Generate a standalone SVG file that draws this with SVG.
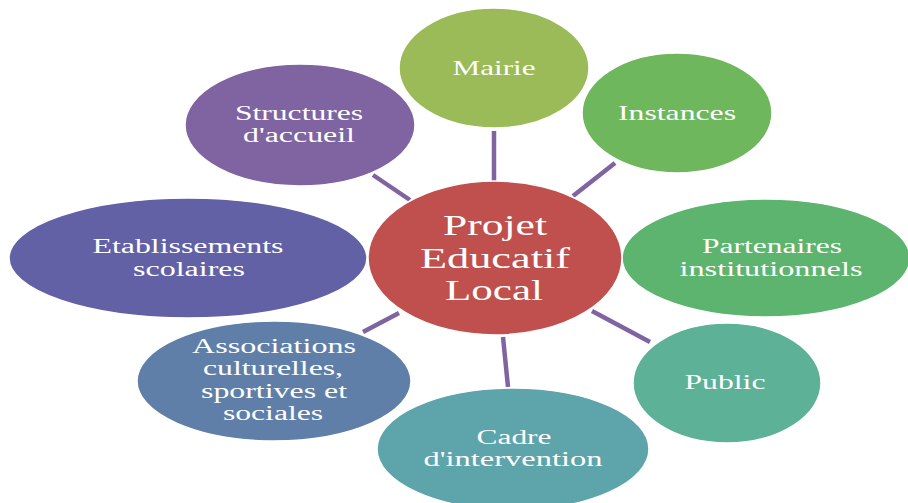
<svg xmlns="http://www.w3.org/2000/svg" width="908" height="503" viewBox="0 0 908 503">
<style>
.n{stroke:#ffffff;stroke-width:1.5}
.t{font-family:"Liberation Serif","Times New Roman",serif;font-size:20px;fill:#ffffff;text-anchor:middle}
.s{font-size:22px}
.c{font-size:29px}
.l{stroke:#8064A2;stroke-width:4.5;fill:none}
</style>
<rect width="908" height="503" fill="#ffffff"/>
<g id="connectors">
<line class="l" x1="494" y1="131" x2="494" y2="182"/>
<line class="l" x1="373" y1="175" x2="410" y2="200"/>
<line class="l" x1="615" y1="163" x2="573" y2="196"/>
<line class="l" x1="592" y1="311" x2="650" y2="342"/>
<line class="l" x1="399" y1="313" x2="363" y2="332"/>
<line class="l" x1="503" y1="337" x2="508" y2="387"/>
</g>
<g id="mairie">
<ellipse class="n" cx="494" cy="68" rx="95" ry="60" fill="#9BBB59"/>
<text class="t s" x="494" y="75" textLength="83" lengthAdjust="spacingAndGlyphs">Mairie</text>
</g>
<g id="instances">
<ellipse class="n" cx="677" cy="113" rx="95" ry="60" fill="#6EB75C"/>
<text class="t s" x="677" y="120" textLength="118" lengthAdjust="spacingAndGlyphs">Instances</text>
</g>
<g id="structures">
<ellipse class="n" cx="300" cy="125" rx="115" ry="61" fill="#8064A2"/>
<text class="t"><tspan x="299" y="120" textLength="128" lengthAdjust="spacingAndGlyphs">Structures</tspan><tspan x="299" y="142" textLength="112" lengthAdjust="spacingAndGlyphs">d'accueil</tspan></text>
</g>
<g id="partenaires">
<ellipse class="n" cx="766" cy="258" rx="144" ry="59" fill="#5DB46F"/>
<text class="t"><tspan x="772" y="253" textLength="140" lengthAdjust="spacingAndGlyphs">Partenaires</tspan><tspan x="771" y="276" textLength="183" lengthAdjust="spacingAndGlyphs">institutionnels</tspan></text>
</g>
<g id="etablissements">
<ellipse class="n" cx="188" cy="258" rx="179" ry="60" fill="#6361A6"/>
<text class="t"><tspan x="188" y="253" textLength="191" lengthAdjust="spacingAndGlyphs">Etablissements</tspan><tspan x="189" y="276" textLength="112" lengthAdjust="spacingAndGlyphs">scolaires</tspan></text>
</g>
<g id="public">
<ellipse class="n" cx="727" cy="383" rx="94" ry="60" fill="#5DB197"/>
<text class="t s" x="725" y="389" textLength="81" lengthAdjust="spacingAndGlyphs">Public</text>
</g>
<g id="associations">
<ellipse class="n" cx="274" cy="381" rx="137" ry="60" fill="#5F7FA8"/>
<text class="t"><tspan x="274" y="353" textLength="164" lengthAdjust="spacingAndGlyphs">Associations</tspan><tspan x="273" y="375" textLength="140" lengthAdjust="spacingAndGlyphs">culturelles,</tspan><tspan x="274" y="398" textLength="146" lengthAdjust="spacingAndGlyphs">sportives et</tspan><tspan x="273" y="420" textLength="100" lengthAdjust="spacingAndGlyphs">sociales</tspan></text>
</g>
<g id="cadre">
<ellipse class="n" cx="513" cy="449" rx="136" ry="61" fill="#5DA4AB"/>
<text class="t"><tspan x="514" y="444" textLength="75" lengthAdjust="spacingAndGlyphs">Cadre</tspan><tspan x="513" y="466" textLength="179" lengthAdjust="spacingAndGlyphs">d'intervention</tspan></text>
</g>
<g id="projet">
<ellipse class="n" cx="495" cy="258" rx="127" ry="77" fill="#C0504D"/>
<text class="t c"><tspan x="495" y="235" textLength="104" lengthAdjust="spacingAndGlyphs">Projet</tspan><tspan x="495" y="268" textLength="150" lengthAdjust="spacingAndGlyphs">Educatif</tspan><tspan x="494" y="300" textLength="98" lengthAdjust="spacingAndGlyphs">Local</tspan></text>
</g>
</svg>
